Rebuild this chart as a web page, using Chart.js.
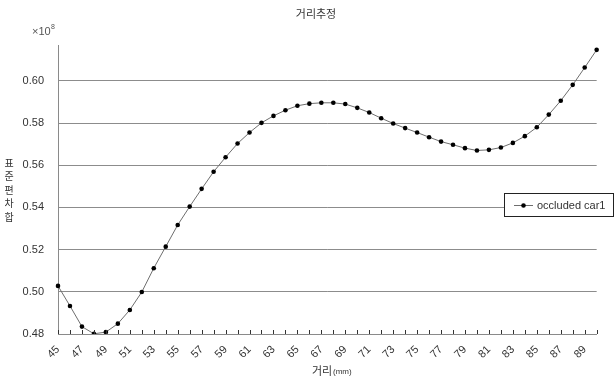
<!DOCTYPE html>
<html>
<head>
<meta charset="utf-8">
<script src="https://cdn.jsdelivr.net/npm/chart.js@4.4.1/dist/chart.umd.min.js"></script>
<style>
  html, body { margin: 0; padding: 0; background: #fff; }
  #wrap { width: 615px; height: 380px; position: relative; }
</style>
</head>
<body>
<div id="wrap"><canvas id="c" width="615" height="380"></canvas></div>
<script>
// Distance (mm) on the x axis
const distances = [45,46,47,48,49,50,51,52,53,54,55,56,57,58,59,60,61,62,63,64,65,66,67,68,
  69,70,71,72,73,74,75,76,77,78,79,80,81,82,83,84,85,86,87,88,89,90];
// Sum of standard deviations (x10^8)
const stdSum = [0.5028,0.4933,0.4835,0.4801,0.4809,0.4849,0.4914,0.4999,0.5112,0.5214,
  0.5317,0.5404,0.5488,0.5569,0.5638,0.5703,0.5755,0.5801,0.5834,0.5861,0.5882,0.5892,
  0.5896,0.5896,0.5890,0.5872,0.5850,0.5823,0.5798,0.5776,0.5755,0.5733,0.5712,0.5697,
  0.5681,0.5670,0.5673,0.5684,0.5706,0.5738,0.5780,0.5840,0.5906,0.5981,0.6063,0.6147];
const yTicks = [0.48, 0.50, 0.52, 0.54, 0.56, 0.58, 0.60];
const seriesName = 'occluded car1';
const chartTitle = '거리추정';
const yTitleChars = ['표', '준', '편', '차', '합'];

const FONT = '"Liberation Sans", Arial, sans-serif';
const KFONT = '"Noto Sans CJK KR", "Noto Sans", sans-serif';

const decorations = {
  id: 'decorations',
  afterDraw(chart) {
    const ctx = chart.ctx;
    const area = chart.chartArea;
    const xs = chart.scales.x;
    ctx.save();

    // small tick marks pointing up from the x axis
    ctx.strokeStyle = '#333';
    ctx.lineWidth = 1;
    for (let i = 0; i < xs.ticks.length; i++) {
      const px = Math.round(xs.getPixelForTick(i)) + 0.5;
      ctx.beginPath();
      ctx.moveTo(px, area.bottom);
      ctx.lineTo(px, area.bottom - 4);
      ctx.stroke();
    }

    // title
    ctx.fillStyle = '#333';
    ctx.font = '11px ' + KFONT;
    ctx.textAlign = 'center';
    ctx.textBaseline = 'middle';
    ctx.fillText(chartTitle, 316, 14);

    // exponent marker
    ctx.fillStyle = '#555';
    ctx.font = '11px ' + FONT;
    ctx.textAlign = 'left';
    ctx.fillText('\u00d710', 32, 32);
    ctx.font = '7px ' + FONT;
    ctx.fillText('8', 51, 27);

    // y axis title, characters stacked in one column
    ctx.fillStyle = '#333';
    ctx.font = '10px ' + KFONT;
    ctx.textAlign = 'center';
    yTitleChars.forEach((ch, i) => ctx.fillText(ch, 9, 163 + i * 13.5));

    // x axis title
    ctx.textAlign = 'left';
    ctx.font = '11px ' + KFONT;
    ctx.fillText('거리', 312, 371);
    ctx.font = '8px ' + FONT;
    ctx.fillText('(mm)', 333, 372);

    // legend box
    const lx = 504, ly = 193, lw = 109, lh = 23;
    ctx.fillStyle = '#fff';
    ctx.fillRect(lx, ly, lw, lh);
    ctx.strokeStyle = '#222';
    ctx.strokeRect(lx + 0.5, ly + 0.5, lw, lh);
    const ds = chart.data.datasets[0];
    ctx.strokeStyle = ds.borderColor;
    ctx.beginPath();
    ctx.moveTo(514, ly + 12.5);
    ctx.lineTo(533, ly + 12.5);
    ctx.stroke();
    ctx.fillStyle = '#000';
    ctx.beginPath();
    ctx.arc(523.5, ly + 12.5, 2.3, 0, Math.PI * 2);
    ctx.fill();
    ctx.fillStyle = '#333';
    ctx.font = '11px ' + FONT;
    ctx.textAlign = 'left';
    ctx.fillText(ds.label, 537, ly + 12.5);

    ctx.restore();
  }
};

new Chart(document.getElementById('c'), {
  type: 'line',
  data: {
    labels: distances.map(String),
    datasets: [{
      label: seriesName,
      data: stdSum,
      borderColor: '#6e6e6e',
      borderWidth: 1,
      pointStyle: 'circle',
      pointRadius: 2.3,
      pointBackgroundColor: '#000',
      pointBorderColor: '#000',
      pointBorderWidth: 0,
      tension: 0,
      fill: false
    }]
  },
  options: {
    responsive: false,
    animation: false,
    devicePixelRatio: 1,
    layout: { padding: { top: 45, right: 2, left: 0, bottom: 0 } },
    plugins: {
      legend: { display: false },
      title: { display: false },
      tooltip: { enabled: false }
    },
    scales: {
      x: {
        type: 'category',
        offset: false,
        afterFit(s) { s.height = 46; },
        grid: { display: true, drawOnChartArea: false, drawTicks: false, color: 'rgba(0,0,0,0)' },
        border: { display: true, color: '#8a8a8a', width: 1 },
        ticks: {
          autoSkip: false,
          minRotation: 45,
          maxRotation: 45,
          padding: 9,
          color: '#333',
          font: { family: FONT, size: 11 },
          callback(val, idx) { return idx % 2 === 0 ? this.getLabelForValue(val) : ''; }
        }
      },
      y: {
        min: 0.48,
        max: 0.617,
        afterFit(s) { s.width = 58; },
        afterBuildTicks(s) { s.ticks = yTicks.map(v => ({ value: v })); },
        grid: { color: '#8c8c8c', lineWidth: 1, drawTicks: false },
        border: { display: true, color: '#8a8a8a', width: 1 },
        ticks: {
          padding: 14,
          color: '#333',
          font: { family: FONT, size: 11 },
          callback(v) { return Number(v).toFixed(2); }
        }
      }
    }
  },
  plugins: [decorations]
});
</script>
</body>
</html>
